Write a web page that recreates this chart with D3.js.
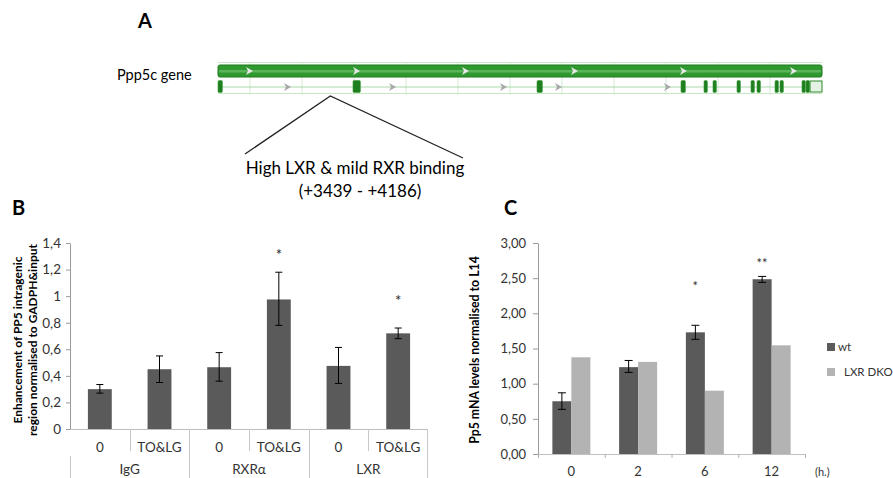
<!DOCTYPE html>
<html><head><meta charset="utf-8">
<script src="https://cdn.jsdelivr.net/npm/d3@7"></script>
<style>
body{margin:0;background:#fff;}
svg{display:block;font-family:Lato,"Open Sans","Liberation Sans",sans-serif;}
</style></head>
<body><svg id="c" width="893" height="478"></svg>
<script>
// ---------- DATA ----------
// Panel A: gene model (bp along Ppp5c)
const geneLength = 20500;
const exons = [[0,170],[4582,4853],[10827,11030],[15714,15884],[16495,16630],[16800,16936],[17615,17751],[18090,18226],[18294,18430],[18905,19041],[19075,19210],[19821,19957],[19957,20093]];
const utr3 = [20093,20500];
const topArrows = [1052,4684,8383,12083,15782,19515];
const rowArrows = [2342,5906,9673,11540,15239];
const bindingRegion = [3439,4186];

// Panel B
const bConditions = ["0","TO&LG","0","TO&LG","0","TO&LG"];
const bGroups = ["IgG","RXRα","LXR"];
const bValues = [0.30,0.45,0.465,0.975,0.475,0.72];
const bErrLow = [0.27,0.35,0.36,0.78,0.343,0.68];
const bErrHigh = [0.335,0.55,0.575,1.18,0.614,0.76];
const bStars = ["","","","*","","*"];
const bStarAt = [0,0,0,1.34,0,0.99];
const bTicks = ["0","0,2","0,4","0,6","0,8","1","1,2","1,4"];

// Panel C
const cTimes = ["0","2","6","12"];
const cWt = [0.75,1.235,1.73,2.485];
const cWtLow = [0.635,1.16,1.63,2.44];
const cWtHigh = [0.87,1.33,1.83,2.525];
const cDko = [1.375,1.31,0.90,1.545];
const cStars = ["","","*","**"];
const cStarAt = [0,0,2.43,2.76];
const cSeries = ["wt","LXR DKO"];
const cTicks = ["0,00","0,50","1,00","1,50","2,00","2,50","3,00"];

// ---------- DRAW ----------
const svg = d3.select("#c");
const dark = "#5a5a5a", light = "#b3b3b3";

// ===== Panel A =====
svg.append("text").attr("x",138).attr("y",28).attr("font-size",20).attr("font-weight","bold").text("A");
const gx = d3.scaleLinear().domain([0,geneLength]).range([218,822]);
const A = svg.append("g");
A.append("text").attr("x",117).attr("y",80).attr("font-size",14.5).text("Ppp5c gene");
A.append("line").attr("x1",gx(0)).attr("x2",gx(geneLength)).attr("y1",62.5).attr("y2",62.5).attr("stroke","#c6e6c6");
A.append("line").attr("x1",gx(0)).attr("x2",gx(geneLength)).attr("y1",93.5).attr("y2",93.5).attr("stroke","#c6e6c6");
A.selectAll(".grid").data(d3.range(1086,geneLength,1765)).join("line")
  .attr("x1",d=>gx(d)).attr("x2",d=>gx(d)).attr("y1",62).attr("y2",95).attr("stroke","#d3ebd3");
A.append("rect").attr("x",gx(0)).attr("y",65).attr("width",gx(geneLength)-gx(0)).attr("height",12).attr("rx",2)
  .attr("fill","#2f982f").attr("stroke","#1d7a1d");
A.append("rect").attr("x",gx(0)+1).attr("y",70).attr("width",gx(geneLength)-gx(0)-2).attr("height",2.5).attr("fill","#6cc06c").attr("opacity",0.7);
const chevron = "M-3,-4 L4,0 L-3,4 L-1,0 Z";
A.selectAll(".ta").data(topArrows).join("path").attr("d",chevron)
  .attr("transform",d=>`translate(${gx(d)},71)`).attr("fill","#e8e8e8");
A.append("line").attr("x1",gx(0)).attr("x2",gx(geneLength)).attr("y1",87).attr("y2",87).attr("stroke","#a9d8a9").attr("stroke-width",1.2);
A.selectAll(".ra").data(rowArrows).join("path").attr("d",chevron)
  .attr("transform",d=>`translate(${gx(d)},87)`).attr("fill","#a8a8a8");
A.selectAll(".ex").data(exons).join("rect")
  .attr("x",d=>gx(d[0])).attr("width",d=>Math.max(2,gx(d[1])-gx(d[0])-0.6))
  .attr("y",80.5).attr("height",12).attr("rx",1.2).attr("fill","#1f7f1f").attr("stroke","#3a9a3a").attr("stroke-width",0.6);
A.append("rect").attr("x",gx(utr3[0])).attr("width",gx(utr3[1])-gx(utr3[0])).attr("y",81).attr("height",11)
  .attr("fill","#e4f2e4").attr("stroke","#2a8a2a").attr("stroke-width",1);
const mid = gx((bindingRegion[0]+bindingRegion[1])/2);
A.append("path").attr("d",`M245,154 L${mid},96 L463,158`).attr("fill","none").attr("stroke","#222").attr("stroke-width",1.3);
A.append("text").attr("x",355).attr("y",174).attr("text-anchor","middle").attr("font-size",17).text("High LXR & mild RXR binding");
A.append("text").attr("x",360).attr("y",197).attr("text-anchor","middle").attr("font-size",17).text(`(+${bindingRegion[0]} - +${bindingRegion[1]})`);

// ===== Panel B =====
svg.append("text").attr("x",12).attr("y",215).attr("font-size",20).attr("font-weight","bold").text("B");
const B = svg.append("g");
const xB = d3.scaleBand().domain(d3.range(bValues.length)).range([70,428]).paddingInner(0.6).paddingOuter(0.3);
const yB = d3.scaleLinear().domain([0,1.4]).range([429,243]);
const step = xB.step();
const slotL = i => xB(i) - step*0.3;
B.append("g").attr("transform","translate(70,0)")
  .call(d3.axisLeft(yB).tickValues(d3.range(0,1.41,0.2)).tickFormat((d,i)=>bTicks[i]).tickSize(4).tickSizeOuter(0))
  .call(g=>g.select(".domain").attr("stroke","#9a9a9a"))
  .call(g=>g.selectAll(".tick line").attr("stroke","#9a9a9a"))
  .call(g=>g.selectAll("text").attr("font-size",13.5).attr("font-family","Lato").attr("fill","#333").attr("x",-9));
B.selectAll(".bar").data(bValues).join("rect")
  .attr("x",(d,i)=>xB(i)).attr("width",xB.bandwidth()).attr("y",d=>yB(d)).attr("height",d=>yB(0)-yB(d)).attr("fill",dark);
const eb = B.selectAll(".eb").data(bValues).join("g");
eb.append("line").attr("x1",(d,i)=>xB(i)+xB.bandwidth()/2).attr("x2",(d,i)=>xB(i)+xB.bandwidth()/2)
  .attr("y1",(d,i)=>yB(bErrLow[i])).attr("y2",(d,i)=>yB(bErrHigh[i])).attr("stroke","#000");
[bErrLow,bErrHigh].forEach(arr=>{
  eb.append("line").attr("x1",(d,i)=>xB(i)+xB.bandwidth()/2-3.5).attr("x2",(d,i)=>xB(i)+xB.bandwidth()/2+3.5)
    .attr("y1",(d,i)=>yB(arr[i])).attr("y2",(d,i)=>yB(arr[i])).attr("stroke","#000");
});
B.selectAll(".st").data(bStars).join("text").attr("x",(d,i)=>xB(i)+xB.bandwidth()/2).attr("y",(d,i)=>yB(bStarAt[i])+9)
  .attr("text-anchor","middle").attr("font-size",15).attr("fill","#222").text(d=>d);
B.append("line").attr("x1",70).attr("x2",428).attr("y1",429.5).attr("y2",429.5).attr("stroke","#bdbdbd");
B.selectAll(".cl").data(bConditions).join("text").attr("x",(d,i)=>xB(i)+xB.bandwidth()/2).attr("y",452)
  .attr("text-anchor","middle").attr("font-size",13.5).attr("fill","#333").text(d=>d);
d3.range(1,bConditions.length).forEach(i=>{
  const x = Math.round(slotL(i))+0.5;
  B.append("line").attr("x1",x).attr("x2",x).attr("y1",429).attr("y2",i%2===0?478:451).attr("stroke","#c8c8c8");
});
B.append("line").attr("x1",70.5).attr("x2",70.5).attr("y1",456).attr("y2",478).attr("stroke","#c8c8c8");
B.append("line").attr("x1",427.5).attr("x2",427.5).attr("y1",429).attr("y2",478).attr("stroke","#c8c8c8");
B.selectAll(".gl").data(bGroups).join("text").attr("x",(d,i)=>slotL(2*i)+step).attr("y",474)
  .attr("text-anchor","middle").attr("font-size",13.5).attr("fill","#333").text(d=>d);
const bl = B.append("text").attr("transform","translate(22,340) rotate(-90)").attr("text-anchor","middle").attr("font-size",12).attr("font-weight","bold");
bl.append("tspan").attr("x",0).attr("y",0).text("Enhancement of PP5 intragenic");
bl.append("tspan").attr("x",0).attr("y",15).text("region normalised to GADPH&input");

// ===== Panel C =====
svg.append("text").attr("x",504).attr("y",215).attr("font-size",20).attr("font-weight","bold").text("C");
const C = svg.append("g");
const x0 = d3.scaleBand().domain(cTimes).range([538,805]);
const bw = x0.bandwidth();
const x1 = d3.scaleBand().domain(cSeries).range([(bw-38)/2,(bw+38)/2]);
const yC = d3.scaleLinear().domain([0,3]).range([454,243]);
C.append("g").attr("transform","translate(538,0)")
  .call(d3.axisLeft(yC).tickValues(d3.range(0,3.01,0.5)).tickFormat((d,i)=>cTicks[i]).tickSize(5).tickSizeOuter(0))
  .call(g=>g.select(".domain").attr("stroke","#9a9a9a"))
  .call(g=>g.selectAll(".tick line").attr("stroke","#9a9a9a"))
  .call(g=>g.selectAll("text").attr("font-size",13).attr("font-family","Lato").attr("fill","#333").attr("x",-12));
const series = [{k:"wt",v:cWt,c:dark},{k:"LXR DKO",v:cDko,c:light}];
series.forEach(s=>{
  C.selectAll(".b"+s.k.replace(/ /g,"")).data(s.v).join("rect")
    .attr("x",(d,i)=>x0(cTimes[i])+x1(s.k)).attr("width",x1.bandwidth())
    .attr("y",d=>yC(d)).attr("height",d=>yC(0)-yC(d)).attr("fill",s.c);
});
const ce = C.selectAll(".ce").data(cWt).join("g");
const cx = i => x0(cTimes[i])+x1("wt")+x1.bandwidth()/2;
ce.append("line").attr("x1",(d,i)=>cx(i)).attr("x2",(d,i)=>cx(i)).attr("y1",(d,i)=>yC(cWtLow[i])).attr("y2",(d,i)=>yC(cWtHigh[i])).attr("stroke","#000");
[cWtLow,cWtHigh].forEach(arr=>{
  ce.append("line").attr("x1",(d,i)=>cx(i)-4).attr("x2",(d,i)=>cx(i)+4).attr("y1",(d,i)=>yC(arr[i])).attr("y2",(d,i)=>yC(arr[i])).attr("stroke","#000");
});
C.selectAll(".cs").data(cStars).join("text").attr("x",(d,i)=>cx(i)).attr("y",(d,i)=>yC(cStarAt[i])+8)
  .attr("text-anchor","middle").attr("font-size",13).attr("fill","#333").text(d=>d);
C.append("g").attr("transform","translate(0,454)")
  .call(d3.axisBottom(x0).tickSize(0).tickSizeOuter(0))
  .call(g=>g.select(".domain").attr("stroke","#c0c0c0"))
  .call(g=>g.selectAll("text").attr("font-size",13).attr("font-family","Lato").attr("fill","#333").attr("dy",0).attr("y",22));
C.selectAll(".ct").data(d3.range(cTimes.length+1)).join("line")
  .attr("x1",i=>538+i*bw+0.5).attr("x2",i=>538+i*bw+0.5).attr("y1",454).attr("y2",458).attr("stroke","#b0b0b0");
C.append("text").attr("x",815).attr("y",476).attr("font-size",11).attr("fill","#333").text("(h.)");
C.append("text").attr("transform","translate(479,350) rotate(-90)").attr("text-anchor","middle").attr("font-size",12.3).attr("font-weight","bold").text("Pp5 mNA levels normalised to L14");
const lg = C.selectAll(".lg").data(series).join("g").attr("transform",(d,i)=>`translate(827,${343+i*25})`);
lg.append("rect").attr("width",8).attr("height",8).attr("fill",d=>d.c);
lg.append("text").attr("x",(d,i)=>i===0?11:17).attr("y",8).attr("font-size",11.5).attr("fill","#333").text(d=>d.k);
</script></body></html>
